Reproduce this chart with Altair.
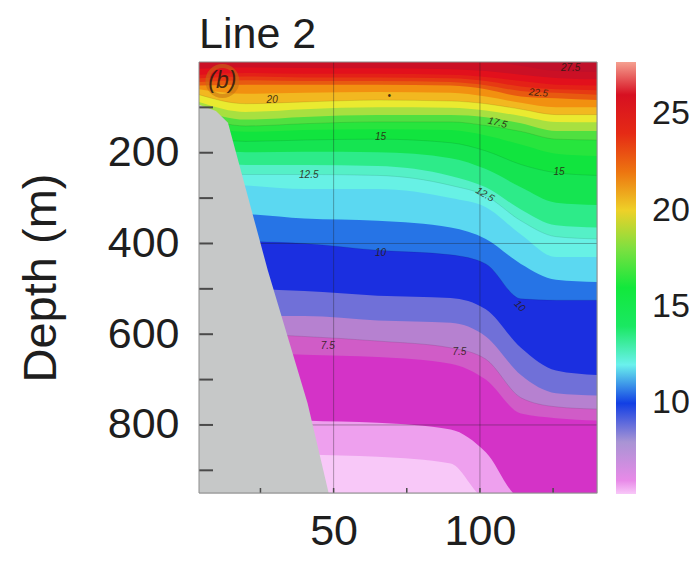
import altair as alt
import pandas as pd

# ---------------- data ----------------
X_DOMAIN = [4, 140]          # distance along the line
DEPTH_DOMAIN = [0, 950]      # depth (m)

stations = [4, 20, 40, 65, 90, 102, 114, 126, 140]
levels = [27, 26, 25, 24, 23, 22, 21, 20, 19, 18, 17, 16, 15, 14, 13,
          12.5, 12, 11, 10, 9, 8, 7.5, 7, 6, 5.5]
# temperature of the water lying just below each isotherm
band_temp = [26.5, 25.5, 24.5, 23.5, 22.5, 21.5, 20.5, 19.5, 18.5, 17.5,
             16.5, 15.5, 14.5, 13.5, 12.75, 12.25, 11.5, 10.5, 9.5, 8.5,
             7.75, 7.25, 6.5, 5.75, 5.3]
top_temp = 27.0

# isotherm depths (m) at each station, same order as `levels`
depth_x4 = [0, 15, 28, 36, 44, 52, 60, 72, 88, 104, 120, 138, 162, 187, 216,
            240, 265, 330, 390, 500, 560, 600, 640, 780, 860]
depth_x20 = [0, 12, 24, 32, 40, 50, 70, 92, 110, 127, 141, 154, 175, 199, 227,
             248, 272, 335, 395, 500, 560, 600, 640, 780, 860]
depth_x40 = [0, 13, 26, 34, 42, 50, 68, 88, 104, 121, 136, 150, 172, 198, 227,
             248, 280, 345, 400, 505, 560, 605, 645, 790, 865]
depth_x65 = [0, 14, 26, 34, 42, 50, 66, 84, 100, 117, 132, 148, 170, 199, 229,
             250, 280, 350, 415, 515, 570, 615, 650, 795, 870]
depth_x90 = [0, 16, 28, 36, 44, 52, 68, 86, 101, 117, 132, 150, 178, 212, 251,
             272, 300, 365, 425, 520, 575, 630, 665, 810, 885]
depth_x102 = [0, 20, 33, 42, 51, 60, 76, 92, 107, 122, 140, 162, 196, 236, 276,
              295, 320, 390, 445, 545, 605, 655, 700, 860, 960]
depth_x114 = [8, 28, 42, 54, 64, 76, 90, 104, 119, 135, 153, 182, 226, 276, 325,
              350, 380, 445, 522, 630, 690, 740, 775, 960, 960]
depth_x126 = [20, 35, 50, 60, 68, 80, 100, 116, 132, 152, 170, 202, 244, 310, 360,
              385, 430, 480, 525, 680, 730, 760, 785, 960, 960]
depth_x140 = [22, 38, 52, 62, 72, 84, 100, 116, 133, 152, 172, 207, 250, 315, 365,
              390, 430, 485, 525, 690, 735, 765, 790, 960, 960]
station_depths = [depth_x4, depth_x20, depth_x40, depth_x65, depth_x90,
                  depth_x102, depth_x114, depth_x126, depth_x140]

# sea-floor (grey) outline
floor_x = [4.0, 9.8, 13.9, 27.5, 41.1, 48.3]
floor_depth = [94, 108, 134, 459, 752, 950]

# colour bar
cbar_values = [5.3, 6.0, 6.6, 7.3, 8.0, 8.5, 9.0, 9.8, 10.3, 11.0, 11.8, 12.5,
               13.3, 14.0, 15.0, 16.0, 17.5, 18.5, 19.5, 20.5, 21.5, 22.5,
               24.0, 25.5, 27.0, 27.7]
cbar_colors = ["#f8c8f8", "#e88ae8", "#d022c0", "#d060c8", "#a894d4", "#7070d8",
               "#3434d8", "#0c2ce4", "#1c5ce4", "#40b0ec", "#6cf0f4", "#64f2dc",
               "#34ec98", "#1ae862", "#10e040", "#12e83c", "#50e040", "#a8e040",
               "#eaea30", "#f2b820", "#f29010", "#e85a10", "#e52a15", "#e2101c",
               "#c0102a", "#f5a090"]
cbar_ticks = [10, 15, 20, 25]

# the small closed contour around the panel letter
ring_x = [12]
ring_depth = [42]

# contour labels
lab_text = ["(b)", "20", "•", "22.5", "27.5", "17.5", "15", "12.5", "12.5",
            "15", "10", "10", "7.5", "7.5"]
lab_x = [12, 29, 69, 120, 131, 106, 66, 41.5, 101.7, 127, 66, 113.6, 48, 93]
lab_depth = [42, 84, 75, 68, 13, 134, 165, 248, 292, 242, 420, 538, 626, 640]
lab_angle = [0, 0, 0, 5, 0, 15, 0, 0, 30, 0, 0, 45, 0, 0]
lab_size = [23, 10, 10, 10, 10, 10, 10, 10, 10, 10, 10, 10, 10, 10]

# axes
x_labels = [50, 100]
x_ticks = [25, 50, 75, 100, 125]
y_labels = [200, 400, 600, 800]
y_ticks = [100, 200, 300, 400, 500, 600, 700, 800, 900]
grid_x = [50, 100]
grid_y = [400, 800]

# ---------------- build tables ----------------
rows = []
for sx, depths in zip(stations, station_depths):
    for lv, bt, d in zip(levels, band_temp, depths):
        rows.append({"x": sx, "level": lv, "band": bt, "depth": d})
iso_df = pd.DataFrame(rows)

W, H = 398, 431
FONT = "Liberation Sans"
TXT = "#1e1e1e"

xscale = alt.Scale(domain=X_DOMAIN, nice=False, zero=False)
yscale = alt.Scale(domain=DEPTH_DOMAIN, reverse=True, nice=False, zero=False)
cscale = alt.Scale(domain=cbar_values, range=cbar_colors, interpolate="rgb")

xaxis = alt.Axis(values=x_labels, ticks=False, domain=False, grid=False,
                 labelFontSize=43, labelPadding=17, labelColor=TXT, title=None,
                 labelFont=FONT)
yaxis = alt.Axis(values=y_labels, ticks=False, domain=False, grid=False,
                 labelFontSize=43, labelPadding=20, labelColor=TXT,
                 title="Depth (m)", titleFontSize=47, titleFontWeight="normal",
                 titleColor=TXT, titlePadding=42, labelFont=FONT, titleFont=FONT)
legend = alt.Legend(title=None, values=cbar_ticks, gradientLength=432,
                    gradientThickness=20, labelFontSize=34, labelColor=TXT,
                    labelFont=FONT, offset=19, labelOffset=16,
                    gradientStrokeWidth=0, labelOverlap=False, orient="right")


def X(f):
    return alt.X(f + ":Q", scale=xscale, axis=xaxis)


def Y(f):
    return alt.Y(f + ":Q", scale=yscale, axis=yaxis, stack=None)


def C(f):
    return alt.Color(f + ":Q", scale=cscale, legend=legend)


base = alt.Chart(pd.DataFrame({"band": [top_temp]})).mark_rect().encode(
    x=alt.value(0), x2=alt.value(W), y=alt.value(0), y2=alt.value(H),
    color=C("band"))

iso_layers = []
for lv in levels:
    iso_layers.append(
        alt.Chart(iso_df).transform_filter(alt.datum.level == lv)
        .mark_area(interpolate="monotone", clip=True)
        .encode(x=X("x"), y=Y("depth"), y2=alt.value(H), color=C("band"))
    )

contour_lines = (
    alt.Chart(iso_df)
    .transform_filter({"field": "level", "oneOf": [7.5, 10, 12.5, 15, 17, 20]})
    .mark_line(interpolate="monotone", clip=True, color="#000000",
               strokeWidth=0.8, opacity=0.12)
    .encode(x=X("x"), y=Y("depth"), detail="level:N")
)

ring = alt.Chart(pd.DataFrame({"rx": ring_x, "rd": ring_depth})).mark_point(
    shape="circle", filled=False, size=900, stroke="#c87010", strokeWidth=4,
    opacity=0.55, clip=True
).encode(x=X("rx"), y=Y("rd"))

grid_v = alt.Chart(pd.DataFrame({"gx": grid_x})).mark_rule(
    color="#202020", strokeWidth=1, opacity=0.35).encode(x=X("gx"))
grid_h = alt.Chart(pd.DataFrame({"gy": grid_y})).mark_rule(
    color="#202020", strokeWidth=1, opacity=0.35).encode(y=Y("gy"))

floor = alt.Chart(pd.DataFrame({"fx": floor_x, "fd": floor_depth})).mark_area(
    orient="horizontal", color="#c6c8c8", interpolate="linear", clip=True
).encode(y=Y("fd"), x=X("fx"), x2=alt.value(0))

labels = alt.Chart(pd.DataFrame({"t": lab_text, "lx": lab_x, "ld": lab_depth,
                                 "a": lab_angle, "s": lab_size})).mark_text(
    color="#2a1a10", opacity=0.85, fontStyle="italic", font=FONT
).encode(x=X("lx"), y=Y("ld"), text="t:N",
         angle=alt.Angle("a:Q", scale=None), size=alt.Size("s:Q", scale=None))

yt = alt.Chart(pd.DataFrame({"tv": y_ticks})).mark_rule(
    color="#4a4a4a", strokeWidth=2).encode(y=Y("tv"), x=alt.value(0), x2=alt.value(14))
xt = alt.Chart(pd.DataFrame({"tv": x_ticks})).mark_rule(
    color="#4a4a4a", strokeWidth=1.5).encode(x=X("tv"), y=alt.value(H), y2=alt.value(H - 5))

frame = alt.Chart(pd.DataFrame({"band": [top_temp]})).mark_rect(
    fillOpacity=0, stroke="#8c8c8c", strokeWidth=1).encode(
    x=alt.value(0), x2=alt.value(W), y=alt.value(0), y2=alt.value(H))

chart = alt.layer(
    base, *iso_layers, contour_lines, ring, grid_v, grid_h, floor, labels, yt, xt, frame
).properties(
    width=W, height=H,
    title=alt.TitleParams("Line 2", anchor="start", frame="group", fontSize=43,
                          fontWeight="normal", font=FONT, color=TXT, offset=5),
    autosize=alt.AutoSizeParams(type="none"),
    padding={"left": 191, "top": 54, "right": 92, "bottom": 63},
).configure_view(stroke=None).configure(font=FONT, background="white")

chart.save("out.html", embed_options={"renderer": "svg", "actions": False})
